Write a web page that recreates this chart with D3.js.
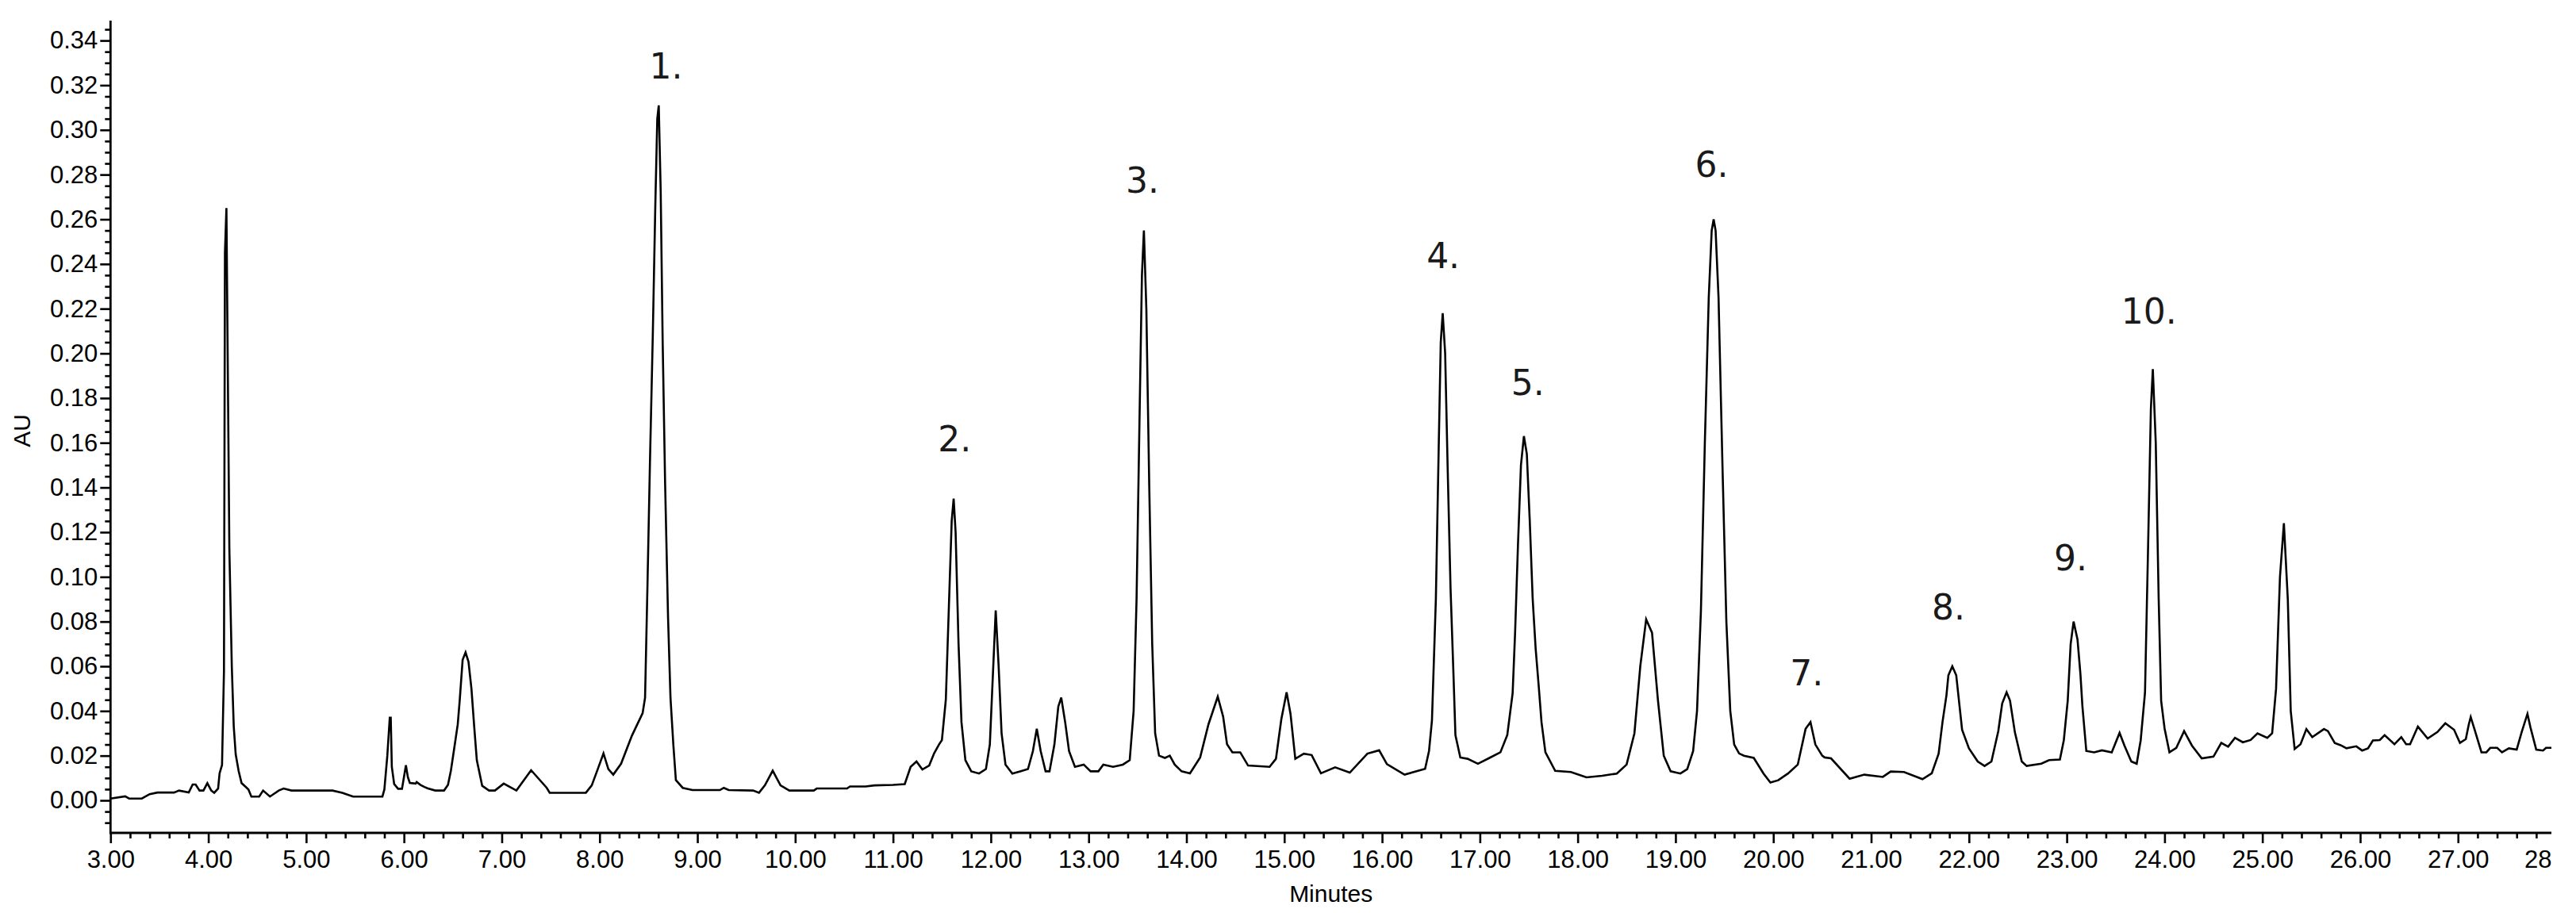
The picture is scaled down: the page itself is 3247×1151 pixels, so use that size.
<!DOCTYPE html>
<html>
<head>
<meta charset="utf-8">
<script src="https://cdn.jsdelivr.net/npm/d3@7"></script>
<style>
  html, body { margin: 0; padding: 0; background: #fff; }
  svg { display: block; }
</style>
</head>
<body>
<svg id="chart" width="3247" height="1151"></svg>
<script>
// ---- Data ----
const minutes = [
  3.00,3.15,3.19,3.32,3.40,3.48,3.65,3.70,3.80,3.84,3.87,3.91,3.95,3.99,4.03,4.06,4.10,4.115,4.14,4.16,
  4.17,4.185,4.195,4.215,4.24,4.26,4.28,4.31,4.34,4.38,4.41,4.44,4.52,4.56,4.63,4.72,4.77,4.85,5.27,5.37,
  5.48,5.78,5.80,5.83,5.855,5.865,5.876,5.90,5.94,5.98,6.00,6.02,6.04,6.06,6.12,6.13,6.17,6.21,6.24,6.32,
  6.41,6.45,6.48,6.51,6.55,6.57,6.60,6.63,6.66,6.69,6.72,6.745,6.80,6.87,6.93,7.02,7.15,7.30,7.46,7.49,
  7.86,7.92,7.98,8.04,8.09,8.14,8.22,8.33,8.44,8.465,8.49,8.515,8.545,8.57,8.59,8.605,8.625,8.645,8.67,8.70,
  8.725,8.755,8.78,8.85,8.95,9.23,9.27,9.32,9.57,9.63,9.69,9.77,9.85,9.94,10.19,10.22,10.53,10.56,10.72,10.81,
  11.00,11.12,11.18,11.24,11.30,11.37,11.42,11.47,11.50,11.54,11.57,11.60,11.62,11.64,11.67,11.70,11.74,11.80,11.88,11.95,
  11.99,12.02,12.05,12.08,12.11,12.15,12.22,12.30,12.38,12.43,12.47,12.51,12.56,12.60,12.65,12.69,12.72,12.76,12.80,12.86,
  12.95,13.02,13.10,13.15,13.25,13.35,13.42,13.46,13.49,13.52,13.545,13.565,13.59,13.62,13.65,13.68,13.72,13.78,13.83,13.88,
  13.95,14.036,14.14,14.225,14.32,14.375,14.415,14.47,14.55,14.63,14.85,14.915,14.97,15.024,15.064,15.113,15.20,15.28,15.375,15.52,
  15.67,15.85,15.97,16.05,16.23,16.44,16.48,16.51,16.55,16.58,16.60,16.62,16.645,16.67,16.70,16.73,16.75,16.80,16.875,16.98,
  17.09,17.21,17.28,17.335,17.36,17.39,17.42,17.45,17.48,17.51,17.54,17.57,17.60,17.63,17.67,17.77,17.93,18.09,18.25,18.40,
  18.50,18.58,18.64,18.70,18.76,18.82,18.88,18.95,19.05,19.12,19.18,19.22,19.26,19.30,19.34,19.37,19.39,19.41,19.44,19.48,
  19.52,19.56,19.60,19.65,19.70,19.80,19.90,19.97,20.05,20.15,20.25,20.33,20.38,20.43,20.50,20.525,20.59,20.78,20.93,21.12,
  21.20,21.336,21.525,21.62,21.69,21.73,21.77,21.79,21.83,21.87,21.93,22.00,22.09,22.16,22.23,22.30,22.34,22.385,22.42,22.47,
  22.54,22.59,22.74,22.82,22.93,22.97,23.01,23.04,23.07,23.11,23.14,23.16,23.20,23.28,23.36,23.46,23.54,23.59,23.66,23.715,
  23.756,23.80,23.83,23.86,23.88,23.91,23.94,23.965,24.00,24.05,24.12,24.20,24.28,24.38,24.50,24.58,24.65,24.72,24.80,24.88,
  24.95,25.05,25.10,25.14,25.18,25.22,25.26,25.29,25.33,25.39,25.45,25.51,25.63,25.67,25.74,25.80,25.86,25.96,26.02,26.08,
  26.13,26.20,26.25,26.35,26.42,26.47,26.51,26.59,26.69,26.79,26.87,26.96,27.02,27.08,27.11,27.13,27.17,27.24,27.29,27.33,
  27.40,27.45,27.52,27.60,27.65,27.71,27.74,27.80,27.87,27.90,27.955
];
const absorbance = [
  0.0008,0.0018,0.0008,0.0008,0.0028,0.0035,0.0035,0.0044,0.0035,0.0071,0.0071,0.0044,0.0044,0.0077,0.0044,0.0034,0.0053,0.0121,0.0158,0.058,
  0.245,0.265,0.214,0.1125,0.060,0.033,0.0206,0.0131,0.0077,0.0061,0.0049,0.0017,0.0017,0.0044,0.0017,0.0044,0.0053,0.0044,0.0044,0.0034,
  0.0017,0.0017,0.0049,0.020,0.037,0.037,0.015,0.0073,0.0052,0.0052,0.0104,0.0157,0.0104,0.0078,0.0075,0.0082,0.0069,0.0060,0.0054,0.0044,
  0.0044,0.0069,0.0133,0.0221,0.034,0.0447,0.0629,0.0662,0.062,0.050,0.032,0.018,0.0065,0.0044,0.0044,0.0075,0.0044,0.0135,0.0056,0.0034,
  0.0034,0.0067,0.0138,0.021,0.014,0.0115,0.0164,0.0289,0.039,0.0459,0.0968,0.151,0.210,0.2666,0.305,0.311,0.2722,0.2054,0.142,0.082,
  0.0459,0.0244,0.0091,0.0056,0.0046,0.0046,0.0056,0.0046,0.0044,0.0034,0.0067,0.0133,0.0067,0.0044,0.0044,0.0053,0.0053,0.0062,0.0062,0.0067,
  0.0069,0.0073,0.015,0.0174,0.0138,0.0156,0.021,0.025,0.027,0.045,0.085,0.125,0.135,0.120,0.070,0.035,0.018,0.013,0.012,0.014,
  0.025,0.055,0.085,0.060,0.030,0.016,0.012,0.013,0.014,0.022,0.032,0.022,0.013,0.013,0.025,0.042,0.046,0.035,0.022,0.015,
  0.016,0.013,0.013,0.016,0.015,0.016,0.018,0.040,0.090,0.170,0.235,0.255,0.220,0.140,0.070,0.030,0.020,0.019,0.020,0.016,
  0.013,0.0121,0.0192,0.034,0.0464,0.0375,0.0251,0.0215,0.0215,0.0156,0.0150,0.0186,0.0363,0.0484,0.0387,0.0186,0.0209,0.0203,0.0121,0.0148,
  0.0124,0.0209,0.0224,0.0162,0.0115,0.0141,0.0221,0.0357,0.090,0.160,0.205,0.218,0.200,0.150,0.095,0.0564,0.0292,0.0192,0.0186,0.0164,
  0.0188,0.0215,0.0292,0.048,0.075,0.115,0.150,0.163,0.155,0.125,0.090,0.068,0.052,0.035,0.0215,0.0132,0.0127,0.0103,0.011,0.012,
  0.016,0.030,0.060,0.081,0.075,0.045,0.020,0.013,0.012,0.014,0.022,0.040,0.085,0.160,0.225,0.255,0.260,0.255,0.225,0.150,
  0.080,0.040,0.025,0.021,0.020,0.019,0.012,0.008,0.009,0.012,0.016,0.032,0.035,0.025,0.020,0.0192,0.0188,0.0097,0.0115,0.0105,
  0.0129,0.0127,0.0095,0.0121,0.0209,0.0351,0.047,0.056,0.060,0.056,0.0316,0.0233,0.0174,0.0154,0.0174,0.031,0.0434,0.0484,0.0446,0.0304,
  0.0174,0.0154,0.0164,0.018,0.0183,0.0269,0.0446,0.070,0.080,0.072,0.0564,0.0422,0.0221,0.0215,0.0224,0.0215,0.0302,0.0245,0.0174,0.0164,
  0.0269,0.0482,0.110,0.175,0.193,0.160,0.090,0.0446,0.0322,0.0215,0.0235,0.031,0.0245,0.0188,0.0196,0.0257,0.024,0.028,0.026,0.027,
  0.030,0.028,0.030,0.050,0.100,0.124,0.090,0.040,0.023,0.0251,0.0319,0.0283,0.0319,0.0310,0.0257,0.0247,0.0233,0.0242,0.0223,0.0233,
  0.0268,0.0270,0.0292,0.0251,0.0283,0.0251,0.0251,0.0330,0.0277,0.0306,0.0345,0.0316,0.0257,0.0274,0.0339,0.0373,0.0316,0.0215,0.0215,0.0235,
  0.0235,0.0215,0.0233,0.0227,0.0304,0.0387,0.0328,0.0227,0.0223,0.0235,0.0235
];
const peakLabels = ["1.","2.","3.","4.","5.","6.","7.","8.","9.","10."];
const peakLabelMinutes = [8.68, 11.63, 13.55, 16.625, 17.49, 19.37, 20.34, 21.79, 23.04, 23.84];
const peakLabelAU = [0.323, 0.156, 0.272, 0.238, 0.1815, 0.279, 0.0515, 0.081, 0.103, 0.2132];
const xMajorTicks = [3,4,5,6,7,8,9,10,11,12,13,14,15,16,17,18,19,20,21,22,23,24,25,26,27,28];
const yMajorTicks = [0,0.02,0.04,0.06,0.08,0.10,0.12,0.14,0.16,0.18,0.20,0.22,0.24,0.26,0.28,0.30,0.32,0.34];
const xDomain = [3, 27.955];
const yDomain = [-0.01455, 0.3489];

// ---- Layout ----
const W = 3247, H = 1151;
const M = { left: 139.3, right: 3216, top: 26, bottom: 1050 };
const FONT = "'Liberation Sans', Arial, sans-serif";

const svg = d3.select("#chart");
svg.append("rect").attr("width", W).attr("height", H).attr("fill", "#fff");

const x = d3.scaleLinear().domain(xDomain).range([M.left, M.right]);
const y = d3.scaleLinear().domain(yDomain).range([M.bottom, M.top]);

const xMinor = d3.range(3, 27.96, 0.2).map(v => +v.toFixed(2)).filter(v => Math.abs(v - Math.round(v)) > 1e-6);
const yMinor = d3.range(-0.01, 0.3476, 0.005).map(v => +v.toFixed(3)).filter(v => Math.abs(v / 0.02 - Math.round(v / 0.02)) > 1e-6);

// X axis
const gx = svg.append("g").attr("transform", `translate(0,${M.bottom})`);
gx.call(d3.axisBottom(x).tickValues(xMinor).tickSize(7).tickSizeOuter(0).tickFormat(""));
gx.select(".domain").remove();
const gx2 = svg.append("g").attr("transform", `translate(0,${M.bottom})`)
  .call(d3.axisBottom(x).tickValues(xMajorTicks).tickSize(13).tickSizeOuter(0).tickPadding(9)
        .tickFormat(d => d === 28 ? "28" : d3.format(".2f")(d)));
gx2.select(".domain").remove();
// the last label is cut at the axis end in the reference: show only "28", ending at the axis end, without a tick
gx2.selectAll(".tick").filter(d => d === 28).each(function () {
  const t = d3.select(this);
  t.select("line").remove();
  t.select("text").attr("text-anchor", "end").attr("x", M.right - x(28));
});
svg.append("line").attr("x1", M.left - 1.3).attr("x2", M.right).attr("y1", M.bottom).attr("y2", M.bottom)
  .attr("stroke", "#000").attr("stroke-width", 2.8);

// Y axis
const gy = svg.append("g").attr("transform", `translate(${M.left},0)`);
gy.call(d3.axisLeft(y).tickValues(yMinor).tickSize(7).tickSizeOuter(0).tickFormat(""));
gy.select(".domain").remove();
const gy2 = svg.append("g").attr("transform", `translate(${M.left},0)`)
  .call(d3.axisLeft(y).tickValues(yMajorTicks).tickSize(13).tickSizeOuter(0).tickPadding(3)
        .tickFormat(d3.format(".2f")));
gy2.select(".domain").remove();
svg.append("line").attr("x1", M.left).attr("x2", M.left).attr("y1", M.top).attr("y2", M.bottom + 1.3)
  .attr("stroke", "#000").attr("stroke-width", 2.8);

svg.selectAll(".tick line").attr("stroke", "#000").attr("stroke-width", 2.6);
svg.selectAll(".tick text").attr("font-family", FONT).attr("font-size", 31).attr("fill", "#000");

// Axis titles
svg.append("text").attr("x", (M.left + M.right) / 2).attr("y", 1137)
  .attr("text-anchor", "middle").attr("font-family", FONT)
  .attr("font-size", 30).attr("fill", "#000").text("Minutes");
svg.append("text").attr("transform", `translate(38,${(M.top + M.bottom) / 2 + 5}) rotate(-90)`)
  .attr("text-anchor", "middle").attr("font-family", FONT)
  .attr("font-size", 30).attr("fill", "#000").text("AU");

// Trace
const pts = minutes.map((m, i) => [m, absorbance[i]]);
const line = d3.line().x(d => x(d[0])).y(d => y(d[1])).curve(d3.curveLinear);
svg.append("path").datum(pts).attr("d", line)
  .attr("fill", "none").attr("stroke", "#000").attr("stroke-width", 2.6).attr("stroke-linejoin", "miter");

// Peak labels
svg.append("g").selectAll("text").data(peakLabels).join("text")
  .attr("x", (d, i) => x(peakLabelMinutes[i]))
  .attr("y", (d, i) => y(peakLabelAU[i]))
  .attr("text-anchor", "middle")
  .attr("font-family", "'DejaVu Sans', Verdana, sans-serif")
  .attr("font-size", 44).attr("fill", "#1a1a1a")
  .text(d => d);
</script>
</body>
</html>
